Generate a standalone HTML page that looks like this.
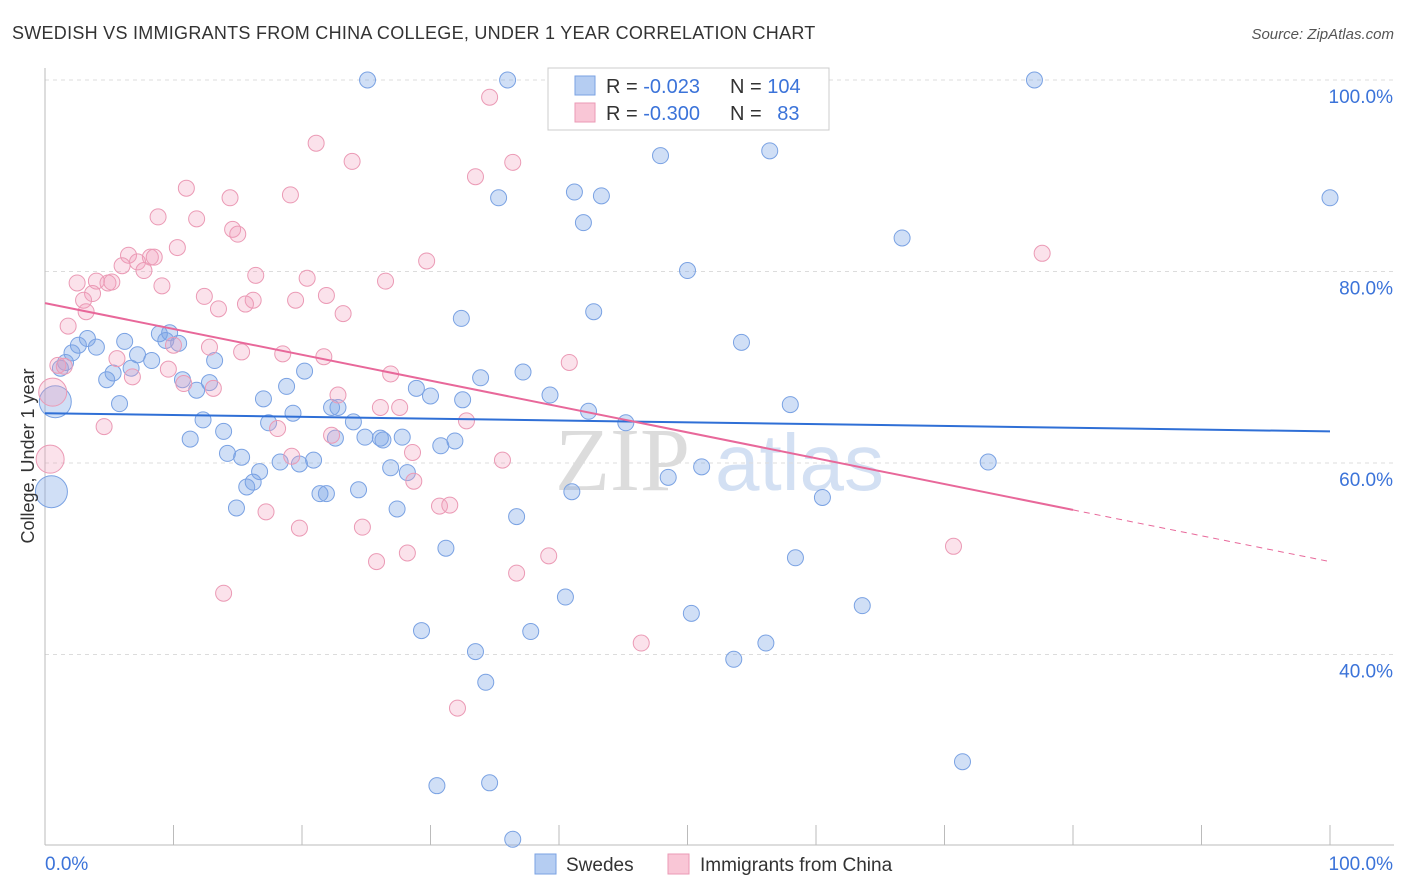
<!DOCTYPE html>
<html><head><meta charset="utf-8">
<style>
body{margin:0;background:#fff;font-family:"Liberation Sans",sans-serif;}
svg{display:block}
</style></head>
<body>
<svg id="chart" width="1406" height="892">
<text x="12" y="39" font-size="18" letter-spacing="0.27" fill="#333">SWEDISH VS IMMIGRANTS FROM CHINA COLLEGE, UNDER 1 YEAR CORRELATION CHART</text>
<text x="1394" y="39" font-size="15" fill="#555" font-style="italic" text-anchor="end">Source: ZipAtlas.com</text>
<g id="watermark">
<text x="555" y="490" font-size="90" fill="#dcdcdc" font-family="Liberation Serif,serif">ZIP</text>
<text x="715" y="490" font-size="80" fill="#d3e0f3">atlas</text>
</g>
<g id="grid"></g>
<g id="axes"></g>
<g id="pts"></g>
<g id="lines"></g>
<g>
<rect x="548" y="68" width="281" height="62" fill="#fff" stroke="#ccc"/>
<rect x="575" y="76" width="20" height="19" fill="#b5cdf2" stroke="#7aa2e3"/>
<rect x="575" y="103" width="20" height="19" fill="#f9c6d6" stroke="#eb9ab5"/>
<text x="606" y="93" font-size="20" fill="#333">R = <tspan fill="#3b73d9">-0.023</tspan></text>
<text x="730" y="93" font-size="20" fill="#333">N = <tspan fill="#3b73d9">104</tspan></text>
<text x="606" y="120" font-size="20" fill="#333">R = <tspan fill="#3b73d9">-0.300</tspan></text>
<text x="730" y="120" font-size="20" fill="#333">N = <tspan fill="#3b73d9" dx="10">83</tspan></text>
</g>
<g>
<rect x="535" y="854" width="21" height="20" fill="#b5cdf2" stroke="#7aa2e3"/>
<text x="566" y="871" font-size="19" fill="#333">Swedes</text>
<rect x="668" y="854" width="21" height="20" fill="#f9c6d6" stroke="#eb9ab5"/>
<text x="700" y="871" font-size="19" fill="#333">Immigrants from China</text>
</g>
<text x="34" y="456" font-size="18" fill="#333" text-anchor="middle" transform="rotate(-90 34 456)">College, Under 1 year</text>
</svg>
<script>
const yTicks=[100,80,60,40];
const yTickLabels=["100.0%","80.0%","60.0%","40.0%"];
const xTickLabels=["0.0%","100.0%"];
const blueX=[25.1,36.0,77.0,47.9,56.4,41.2,43.3,35.3,100,41.9,66.7,50.0,42.7,32.4,54.2,6.2,3.3,2.6,4.0,2.1,1.6,1.2,7.2,8.3,8.9,9.7,9.4,10.4,13.2,5.3,6.7,4.8,10.7,11.8,12.8,20.2,18.8,17.0,5.8,0.8,0.5,19.3,22.3,22.8,24.0,17.4,12.3,13.9,11.3,22.6,24.9,26.1,26.3,27.8,30.8,31.9,14.2,15.3,18.3,19.8,20.9,16.7,26.9,28.2,16.2,15.7,21.4,21.9,24.4,14.9,27.4,28.9,30.0,32.5,33.9,37.2,39.3,42.3,45.2,58.0,36.7,41.0,48.5,51.1,60.5,73.4,31.2,58.4,40.5,50.3,63.6,29.3,37.8,33.5,53.6,56.1,34.3,71.4,30.5,34.6,36.4];
const blueY=[100,100,100,92.1,92.6,88.3,87.9,87.7,87.7,85.1,83.5,80.1,75.8,75.1,72.6,72.7,73.0,72.3,72.1,71.5,70.5,69.9,71.3,70.7,73.5,73.6,72.8,72.5,70.7,69.4,69.9,68.7,68.7,67.6,68.4,69.6,68.0,66.7,66.2,66.4,57.0,65.2,65.8,65.8,64.3,64.2,64.5,63.3,62.5,62.6,62.7,62.6,62.4,62.7,61.8,62.3,61.0,60.6,60.1,59.9,60.3,59.1,59.5,59.0,58.0,57.5,56.8,56.8,57.2,55.3,55.2,67.8,67.0,66.6,68.9,69.5,67.1,65.4,64.2,66.1,54.4,57.0,58.5,59.6,56.4,60.1,51.1,50.1,46.0,44.3,45.1,42.5,42.4,40.3,39.5,41.2,37.1,28.8,26.3,26.6,20.7];
const blueBig=[39,40];
const pinkX=[34.6,21.1,23.9,36.4,33.5,11.0,19.1,14.4,8.8,11.8,14.6,15.0,10.3,77.6,6.5,8.2,8.5,7.2,6.0,29.7,7.7,16.4,20.4,26.5,2.5,4.0,4.9,5.2,9.1,3.7,12.4,21.9,3.0,16.2,19.5,15.6,3.2,13.5,23.2,1.8,10.0,12.8,15.3,18.5,21.7,5.6,40.8,1.0,1.5,9.6,26.9,6.8,10.8,13.1,0.6,22.8,26.1,27.6,32.8,4.6,18.1,22.3,28.6,19.2,0.4,35.6,28.7,30.7,31.5,17.2,24.7,19.8,39.2,25.8,28.2,70.7,36.7,13.9,46.4,32.1];
const pinkY=[98.2,93.4,91.5,91.4,89.9,88.7,88.0,87.7,85.7,85.5,84.4,83.9,82.5,81.9,81.7,81.5,81.5,81.0,80.6,81.1,80.1,79.6,79.3,79.0,78.8,79.0,78.8,78.9,78.5,77.7,77.4,77.5,77.0,77.0,77.0,76.6,75.8,76.1,75.6,74.3,72.3,72.1,71.6,71.4,71.1,70.9,70.5,70.2,70.1,69.8,69.3,69.0,68.3,67.8,67.4,67.1,65.8,65.8,64.4,63.8,63.6,62.9,61.1,60.7,60.4,60.3,58.1,55.5,55.6,54.9,53.3,53.2,50.3,49.7,50.6,51.3,48.5,46.4,41.2,34.4];
const pinkBig=[54,64];
const blueTrend=[65.2,63.3];
const pinkTrend=[76.7,49.7];
const pinkSolidEnd=80;

const NS="http://www.w3.org/2000/svg";
const X0=45,X1=1330;
function sx(v){return X0+(X1-X0)*v/100;}
function sy(v){return 80+(100-v)*9.575;}
function mk(tag,attrs,parent){const e=document.createElementNS(NS,tag);for(const k in attrs)e.setAttribute(k,attrs[k]);parent.appendChild(e);return e;}
const grid=document.getElementById('grid'),axes=document.getElementById('axes'),pts=document.getElementById('pts'),lines=document.getElementById('lines');
yTicks.forEach((t,i)=>{
 const l=mk('line',{x1:X0,x2:1394,y1:sy(t),y2:sy(t),stroke:'#dcdcdc','stroke-dasharray':'4,4'},grid);
 
 
 const tx=mk('text',{x:1393,y:sy(t)+23,'font-size':19,fill:'#3b73d9','text-anchor':'end'},axes);
 tx.textContent=yTickLabels[i];
 
 
});
const ax=mk('line',{x1:X0,x2:X0,y1:68,y2:845,stroke:'#bbb'},axes);


const bx=mk('line',{x1:X0,x2:1394,y1:845,y2:845,stroke:'#bbb'},axes);


for(let i=0;i<=10;i++){
 const t=mk('line',{x1:sx(i*10),x2:sx(i*10),y1:825,y2:845,stroke:'#bbb'},axes);
 
 
}
const xl0=mk('text',{x:45,y:870,'font-size':19,fill:'#3b73d9'},axes);xl0.textContent=xTickLabels[0];


const xl1=mk('text',{x:1393,y:870,'font-size':19,fill:'#3b73d9','text-anchor':'end'},axes);xl1.textContent=xTickLabels[1];



blueX.forEach((v,i)=>{
 const c=mk('circle',{cx:sx(v),cy:sy(blueY[i]),r:blueBig.includes(i)?16:8,fill:'rgba(120,162,230,0.35)',stroke:'#7aa2e3','stroke-width':1},pts);
 
 
});
pinkX.forEach((v,i)=>{
 const c=mk('circle',{cx:sx(v),cy:sy(pinkY[i]),r:pinkBig.includes(i)?14:8,fill:'rgba(242,160,188,0.3)',stroke:'#eb9ab5','stroke-width':1},pts);
 
 
});
const bl=mk('line',{x1:sx(0),y1:sy(blueTrend[0]),x2:sx(100),y2:sy(blueTrend[1]),stroke:'#2f6fd6','stroke-width':2},lines);


const pm=pinkTrend[0]+(pinkTrend[1]-pinkTrend[0])*pinkSolidEnd/100;
const pl=mk('line',{x1:sx(0),y1:sy(pinkTrend[0]),x2:sx(pinkSolidEnd),y2:sy(pm),stroke:'#e8689a','stroke-width':2},lines);


const pd=mk('line',{x1:sx(pinkSolidEnd),y1:sy(pm),x2:sx(100),y2:sy(pinkTrend[1]),stroke:'#e8689a','stroke-width':1,'stroke-dasharray':'6,5'},lines);


</script>
</body></html>
